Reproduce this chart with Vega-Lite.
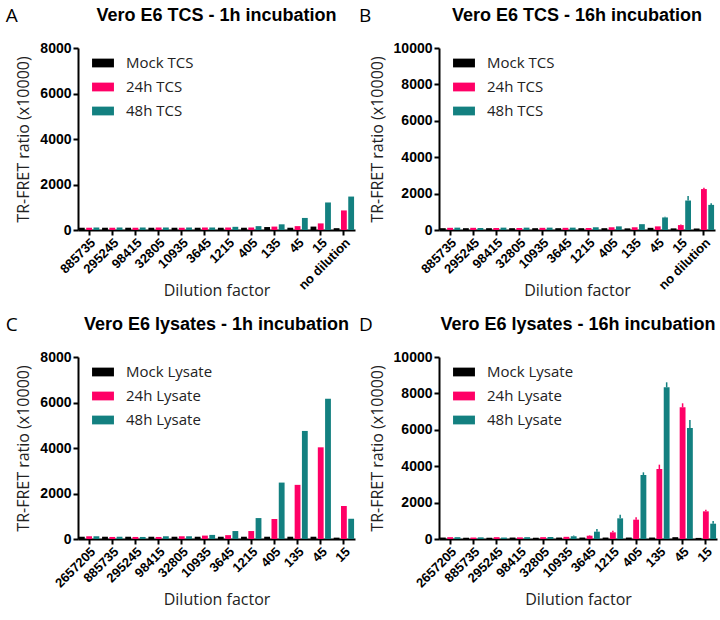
{
  "$schema": "https://vega.github.io/schema/vega-lite/v6.json",
  "background": "white",
  "padding": {"left": 5, "top": 7, "right": 2, "bottom": 2},
  "datasets": {
    "A": [
      {"d": "885735", "g": "Mock TCS", "v": 100}, {"d": "885735", "g": "24h TCS", "v": 100}, {"d": "885735", "g": "48h TCS", "v": 110},
      {"d": "295245", "g": "Mock TCS", "v": 100}, {"d": "295245", "g": "24h TCS", "v": 100}, {"d": "295245", "g": "48h TCS", "v": 110},
      {"d": "98415", "g": "Mock TCS", "v": 100}, {"d": "98415", "g": "24h TCS", "v": 100}, {"d": "98415", "g": "48h TCS", "v": 110},
      {"d": "32805", "g": "Mock TCS", "v": 100}, {"d": "32805", "g": "24h TCS", "v": 110}, {"d": "32805", "g": "48h TCS", "v": 110},
      {"d": "10935", "g": "Mock TCS", "v": 100}, {"d": "10935", "g": "24h TCS", "v": 100}, {"d": "10935", "g": "48h TCS", "v": 110},
      {"d": "3645", "g": "Mock TCS", "v": 100}, {"d": "3645", "g": "24h TCS", "v": 110}, {"d": "3645", "g": "48h TCS", "v": 110},
      {"d": "1215", "g": "Mock TCS", "v": 100}, {"d": "1215", "g": "24h TCS", "v": 110}, {"d": "1215", "g": "48h TCS", "v": 140},
      {"d": "405", "g": "Mock TCS", "v": 100}, {"d": "405", "g": "24h TCS", "v": 110}, {"d": "405", "g": "48h TCS", "v": 170},
      {"d": "135", "g": "Mock TCS", "v": 130}, {"d": "135", "g": "24h TCS", "v": 150}, {"d": "135", "g": "48h TCS", "v": 250},
      {"d": "45", "g": "Mock TCS", "v": 100}, {"d": "45", "g": "24h TCS", "v": 170}, {"d": "45", "g": "48h TCS", "v": 530},
      {"d": "15", "g": "Mock TCS", "v": 150}, {"d": "15", "g": "24h TCS", "v": 290}, {"d": "15", "g": "48h TCS", "v": 1210},
      {"d": "no dilution", "g": "Mock TCS", "v": 80}, {"d": "no dilution", "g": "24h TCS", "v": 860}, {"d": "no dilution", "g": "48h TCS", "v": 1470}
    ],
    "B": [
      {"d": "885735", "g": "Mock TCS", "v": 100}, {"d": "885735", "g": "24h TCS", "v": 120}, {"d": "885735", "g": "48h TCS", "v": 130},
      {"d": "295245", "g": "Mock TCS", "v": 100}, {"d": "295245", "g": "24h TCS", "v": 120}, {"d": "295245", "g": "48h TCS", "v": 110},
      {"d": "98415", "g": "Mock TCS", "v": 100}, {"d": "98415", "g": "24h TCS", "v": 110}, {"d": "98415", "g": "48h TCS", "v": 130},
      {"d": "32805", "g": "Mock TCS", "v": 100}, {"d": "32805", "g": "24h TCS", "v": 110}, {"d": "32805", "g": "48h TCS", "v": 130},
      {"d": "10935", "g": "Mock TCS", "v": 100}, {"d": "10935", "g": "24h TCS", "v": 120}, {"d": "10935", "g": "48h TCS", "v": 130},
      {"d": "3645", "g": "Mock TCS", "v": 100}, {"d": "3645", "g": "24h TCS", "v": 120}, {"d": "3645", "g": "48h TCS", "v": 130},
      {"d": "1215", "g": "Mock TCS", "v": 100}, {"d": "1215", "g": "24h TCS", "v": 110}, {"d": "1215", "g": "48h TCS", "v": 150},
      {"d": "405", "g": "Mock TCS", "v": 100}, {"d": "405", "g": "24h TCS", "v": 150}, {"d": "405", "g": "48h TCS", "v": 200},
      {"d": "135", "g": "Mock TCS", "v": 90}, {"d": "135", "g": "24h TCS", "v": 150}, {"d": "135", "g": "48h TCS", "v": 320},
      {"d": "45", "g": "Mock TCS", "v": 120}, {"d": "45", "g": "24h TCS", "v": 200}, {"d": "45", "g": "48h TCS", "v": 690, "hi": 730},
      {"d": "15", "g": "Mock TCS", "v": 90}, {"d": "15", "g": "24h TCS", "v": 270, "hi": 300}, {"d": "15", "g": "48h TCS", "v": 1620, "hi": 1870},
      {"d": "no dilution", "g": "Mock TCS", "v": 80}, {"d": "no dilution", "g": "24h TCS", "v": 2250, "hi": 2320}, {"d": "no dilution", "g": "48h TCS", "v": 1380, "hi": 1470}
    ],
    "C": [
      {"d": "2657205", "g": "Mock Lysate", "v": 100}, {"d": "2657205", "g": "24h Lysate", "v": 120}, {"d": "2657205", "g": "48h Lysate", "v": 120},
      {"d": "885735", "g": "Mock Lysate", "v": 100}, {"d": "885735", "g": "24h Lysate", "v": 90}, {"d": "885735", "g": "48h Lysate", "v": 100},
      {"d": "295245", "g": "Mock Lysate", "v": 100}, {"d": "295245", "g": "24h Lysate", "v": 90}, {"d": "295245", "g": "48h Lysate", "v": 90},
      {"d": "98415", "g": "Mock Lysate", "v": 100}, {"d": "98415", "g": "24h Lysate", "v": 90}, {"d": "98415", "g": "48h Lysate", "v": 120},
      {"d": "32805", "g": "Mock Lysate", "v": 100}, {"d": "32805", "g": "24h Lysate", "v": 120}, {"d": "32805", "g": "48h Lysate", "v": 120},
      {"d": "10935", "g": "Mock Lysate", "v": 100}, {"d": "10935", "g": "24h Lysate", "v": 150}, {"d": "10935", "g": "48h Lysate", "v": 180},
      {"d": "3645", "g": "Mock Lysate", "v": 100}, {"d": "3645", "g": "24h Lysate", "v": 170}, {"d": "3645", "g": "48h Lysate", "v": 350},
      {"d": "1215", "g": "Mock Lysate", "v": 100}, {"d": "1215", "g": "24h Lysate", "v": 350}, {"d": "1215", "g": "48h Lysate", "v": 920},
      {"d": "405", "g": "Mock Lysate", "v": 100}, {"d": "405", "g": "24h Lysate", "v": 880}, {"d": "405", "g": "48h Lysate", "v": 2480},
      {"d": "135", "g": "Mock Lysate", "v": 100}, {"d": "135", "g": "24h Lysate", "v": 2380}, {"d": "135", "g": "48h Lysate", "v": 4750},
      {"d": "45", "g": "Mock Lysate", "v": 100}, {"d": "45", "g": "24h Lysate", "v": 4030}, {"d": "45", "g": "48h Lysate", "v": 6160},
      {"d": "15", "g": "Mock Lysate", "v": 60}, {"d": "15", "g": "24h Lysate", "v": 1450}, {"d": "15", "g": "48h Lysate", "v": 890}
    ],
    "D": [
      {"d": "2657205", "g": "Mock Lysate", "v": 80}, {"d": "2657205", "g": "24h Lysate", "v": 100}, {"d": "2657205", "g": "48h Lysate", "v": 100},
      {"d": "885735", "g": "Mock Lysate", "v": 70}, {"d": "885735", "g": "24h Lysate", "v": 80}, {"d": "885735", "g": "48h Lysate", "v": 90},
      {"d": "295245", "g": "Mock Lysate", "v": 70}, {"d": "295245", "g": "24h Lysate", "v": 100}, {"d": "295245", "g": "48h Lysate", "v": 80},
      {"d": "98415", "g": "Mock Lysate", "v": 80}, {"d": "98415", "g": "24h Lysate", "v": 90}, {"d": "98415", "g": "48h Lysate", "v": 100},
      {"d": "32805", "g": "Mock Lysate", "v": 70}, {"d": "32805", "g": "24h Lysate", "v": 100}, {"d": "32805", "g": "48h Lysate", "v": 110},
      {"d": "10935", "g": "Mock Lysate", "v": 80}, {"d": "10935", "g": "24h Lysate", "v": 120}, {"d": "10935", "g": "48h Lysate", "v": 150, "hi": 190},
      {"d": "3645", "g": "Mock Lysate", "v": 80}, {"d": "3645", "g": "24h Lysate", "v": 180, "hi": 210}, {"d": "3645", "g": "48h Lysate", "v": 403, "hi": 550},
      {"d": "1215", "g": "Mock Lysate", "v": 80}, {"d": "1215", "g": "24h Lysate", "v": 366, "hi": 458}, {"d": "1215", "g": "48h Lysate", "v": 1136, "hi": 1337},
      {"d": "405", "g": "Mock Lysate", "v": 80}, {"d": "405", "g": "24h Lysate", "v": 1062, "hi": 1190}, {"d": "405", "g": "48h Lysate", "v": 3516, "hi": 3663},
      {"d": "135", "g": "Mock Lysate", "v": 80}, {"d": "135", "g": "24h Lysate", "v": 3846, "hi": 4084}, {"d": "135", "g": "48h Lysate", "v": 8335, "hi": 8610},
      {"d": "45", "g": "Mock Lysate", "v": 100}, {"d": "45", "g": "24h Lysate", "v": 7236, "hi": 7456}, {"d": "45", "g": "48h Lysate", "v": 6099, "hi": 6538},
      {"d": "15", "g": "Mock Lysate", "v": 60}, {"d": "15", "g": "24h Lysate", "v": 1520, "hi": 1612}, {"d": "15", "g": "48h Lysate", "v": 842, "hi": 989}
    ]
  },
  "columns": 2,
  "spacing": {"column": 4, "row": 18},
  "resolve": {"scale": {"color": "independent", "x": "independent", "y": "independent", "xOffset": "independent"}, "legend": {"color": "independent"}},
  "concat": [
    {
      "title": {"text": "A", "anchor": "start", "fontSize": 19, "fontWeight": "normal", "font": "Open Sans", "offset": -19, "dx": -10},
      "vconcat": [{
        "title": "Vero E6 TCS - 1h incubation",
        "width": 277, "height": 182,
        "data": {"name": "A"},
        "encoding": {
          "x": {"field": "d", "type": "nominal", "sort": null, "title": "Dilution factor", "scale": {"paddingInner": 0.12, "paddingOuter": 0.04}},
          "xOffset": {"field": "g", "type": "nominal", "sort": null, "scale": {"paddingInner": 0.2}},
          "color": {"field": "g", "type": "nominal", "scale": {"domain": ["Mock TCS", "24h TCS", "48h TCS"], "range": ["#000000", "#FF0066", "#138080"]}, "legend": {"title": null}},
          "y": {"field": "v", "type": "quantitative", "title": "TR-FRET ratio (x10000)", "scale": {"domain": [0, 8000]}, "axis": {"values": [0, 2000, 4000, 6000, 8000]}}
        },
        "layer": [
          {"mark": {"type": "bar"}},
          {"mark": {"type": "rule", "strokeWidth": 1.5}, "transform": [{"filter": "isValid(datum.hi)"}], "encoding": {"y2": {"field": "hi"}}}
        ]
      }]
    },
    {
      "title": {"text": "B", "anchor": "start", "fontSize": 19, "fontWeight": "normal", "font": "Open Sans", "offset": -19, "dx": -10},
      "vconcat": [{
        "title": "Vero E6 TCS - 16h incubation",
        "width": 276, "height": 182,
        "data": {"name": "B"},
        "encoding": {
          "x": {"field": "d", "type": "nominal", "sort": null, "title": "Dilution factor", "scale": {"paddingInner": 0.12, "paddingOuter": 0.04}},
          "xOffset": {"field": "g", "type": "nominal", "sort": null, "scale": {"paddingInner": 0.2}},
          "color": {"field": "g", "type": "nominal", "scale": {"domain": ["Mock TCS", "24h TCS", "48h TCS"], "range": ["#000000", "#FF0066", "#138080"]}, "legend": {"title": null}},
          "y": {"field": "v", "type": "quantitative", "title": "TR-FRET ratio (x10000)", "scale": {"domain": [0, 10000]}, "axis": {"values": [0, 2000, 4000, 6000, 8000, 10000]}}
        },
        "layer": [
          {"mark": {"type": "bar"}},
          {"mark": {"type": "rule", "strokeWidth": 1.5}, "transform": [{"filter": "isValid(datum.hi)"}], "encoding": {"y2": {"field": "hi"}}}
        ]
      }]
    },
    {
      "title": {"text": "C", "anchor": "start", "fontSize": 19, "fontWeight": "normal", "font": "Open Sans", "offset": -19, "dx": -10},
      "vconcat": [{
        "title": "Vero E6 lysates - 1h incubation",
        "width": 277, "height": 182,
        "data": {"name": "C"},
        "encoding": {
          "x": {"field": "d", "type": "nominal", "sort": null, "title": "Dilution factor", "scale": {"paddingInner": 0.12, "paddingOuter": 0.04}},
          "xOffset": {"field": "g", "type": "nominal", "sort": null, "scale": {"paddingInner": 0.2}},
          "color": {"field": "g", "type": "nominal", "scale": {"domain": ["Mock Lysate", "24h Lysate", "48h Lysate"], "range": ["#000000", "#FF0066", "#138080"]}, "legend": {"title": null}},
          "y": {"field": "v", "type": "quantitative", "title": "TR-FRET ratio (x10000)", "scale": {"domain": [0, 8000]}, "axis": {"values": [0, 2000, 4000, 6000, 8000]}}
        },
        "layer": [
          {"mark": {"type": "bar"}}
        ]
      }]
    },
    {
      "title": {"text": "D", "anchor": "start", "fontSize": 19, "fontWeight": "normal", "font": "Open Sans", "offset": -19, "dx": -10},
      "vconcat": [{
        "title": "Vero E6 lysates - 16h incubation",
        "width": 278, "height": 182,
        "data": {"name": "D"},
        "encoding": {
          "x": {"field": "d", "type": "nominal", "sort": null, "title": "Dilution factor", "scale": {"paddingInner": 0.12, "paddingOuter": 0.04}},
          "xOffset": {"field": "g", "type": "nominal", "sort": null, "scale": {"paddingInner": 0.2}},
          "color": {"field": "g", "type": "nominal", "scale": {"domain": ["Mock Lysate", "24h Lysate", "48h Lysate"], "range": ["#000000", "#FF0066", "#138080"]}, "legend": {"title": null}},
          "y": {"field": "v", "type": "quantitative", "title": "TR-FRET ratio (x10000)", "scale": {"domain": [0, 10000]}, "axis": {"values": [0, 2000, 4000, 6000, 8000, 10000]}}
        },
        "layer": [
          {"mark": {"type": "bar"}},
          {"mark": {"type": "rule", "strokeWidth": 1.5}, "transform": [{"filter": "isValid(datum.hi)"}], "encoding": {"y2": {"field": "hi"}}}
        ]
      }]
    }
  ],
  "config": {
    "view": {"stroke": null},
    "font": "Liberation Sans",
    "title": {"fontSize": 18, "fontWeight": "bold", "font": "Liberation Sans", "anchor": "middle", "color": "black", "offset": 16},
    "axis": {
      "grid": false, "domainColor": "black", "domainWidth": 2, "tickColor": "black", "tickWidth": 2, "tickSize": 5,
      "labelFont": "Liberation Sans", "labelFontWeight": "bold", "labelFontSize": 14, "labelColor": "black",
      "titleFont": "Open Sans", "titleFontWeight": "normal", "titleFontSize": 16, "titleColor": "#222"
    },
    "axisX": {"labelAngle": -45, "labelPadding": 1, "titlePadding": 4, "labelFontSize": 13, "titleY": 52},
    "axisY": {"titlePadding": 8, "format": "d"},
    "legend": {
      "orient": "none", "legendX": 14, "legendY": 4, "labelFont": "Open Sans", "labelFontSize": 15, "labelColor": "#222",
      "symbolType": "M-1,-0.4H1V0.4H-1Z", "symbolSize": 480, "symbolStrokeWidth": 0, "rowPadding": 5, "labelOffset": 12
    },
    "bar": {"strokeWidth": 0}
  }
}
